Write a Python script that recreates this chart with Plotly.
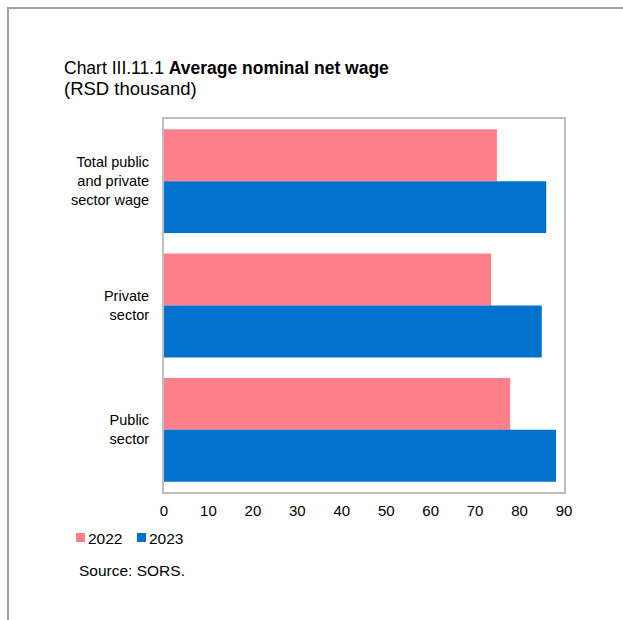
import plotly.graph_objects as go

categories = ["Total public<br>and private<br>sector wage", "Private<br>sector", "Public<br>sector"]
series_names = ["2022", "2023"]
values_2022 = [74.9, 73.6, 77.9]
values_2023 = [86.0, 85.0, 88.2]
colors = ["#FF808A", "#0072CE"]
x_ticks = [0, 10, 20, 30, 40, 50, 60, 70, 80, 90]

W, H = 623, 620
L, R, T, B = 164, 59, 119, 128
PW, PH = W - L - R, H - T - B


def px(x):
    return (x - L) / PW


def py(y):
    return 1 - (y - T) / PH


FONT = "Arial, Liberation Sans, sans-serif"

fig = go.Figure()
for name, vals, col in zip(series_names, [values_2022, values_2023], colors):
    fig.add_trace(go.Bar(
        y=categories, x=vals, name=name, orientation="h",
        marker=dict(color=col, line=dict(width=0)),
        showlegend=False,
    ))

fig.update_layout(
    width=W, height=H,
    margin=dict(l=L, r=R, t=T, b=B, pad=0),
    paper_bgcolor="white", plot_bgcolor="white",
    barmode="group", bargap=0.165, bargroupgap=0,
    font=dict(family=FONT, color="#000000", size=15),
    xaxis=dict(range=[0, 90], tickvals=x_ticks, ticktext=[str(v) for v in x_ticks],
               showgrid=False, zeroline=False, showline=True, mirror=True,
               linecolor="#BFBFBF", linewidth=2, ticks="", ticklabelstandoff=4,
               tickfont=dict(size=15, family=FONT, color="#000000"), fixedrange=True),
    yaxis=dict(autorange="reversed", showgrid=False, zeroline=False, showline=True,
               mirror=True, linecolor="#BFBFBF", linewidth=2, ticks="",
               ticklabelstandoff=10,
               tickfont=dict(size=14.5, family=FONT, color="#000000"), fixedrange=True),
)

shapes = [
    dict(type="line", xref="paper", yref="paper", x0=px(7), x1=px(W), y0=py(8), y1=py(8),
         line=dict(color="#A0A0A0", width=2)),
    dict(type="line", xref="paper", yref="paper", x0=px(8), x1=px(8), y0=py(7), y1=py(H),
         line=dict(color="#A0A0A0", width=2)),
]
# legend squares
leg_x = [76, 137]
for lx, col in zip(leg_x, colors):
    shapes.append(dict(type="rect", xref="paper", yref="paper",
                       x0=px(lx), x1=px(lx + 9), y0=py(533), y1=py(542),
                       line=dict(width=0), fillcolor=col))
fig.update_layout(shapes=shapes)

annotations = [
    dict(text="Chart III.11.1 <b>Average nominal net wage</b>", x=px(62), y=py(68),
         xref="paper", yref="paper", xanchor="left", yanchor="middle", showarrow=False,
         font=dict(size=17.5, family=FONT, color="#000000")),
    dict(text="(RSD thousand)", x=px(62), y=py(89),
         xref="paper", yref="paper", xanchor="left", yanchor="middle", showarrow=False,
         font=dict(size=18.5, family=FONT, color="#000000")),
    dict(text="Source: SORS.", x=px(77), y=py(570),
         xref="paper", yref="paper", xanchor="left", yanchor="middle", showarrow=False,
         font=dict(size=15.5, family=FONT, color="#000000")),
]
for lx, name in zip(leg_x, series_names):
    annotations.append(dict(text=name, x=px(lx + 10), y=py(538),
                            xref="paper", yref="paper", xanchor="left", yanchor="middle",
                            showarrow=False,
                            font=dict(size=15.5, family=FONT, color="#000000")))
fig.update_layout(annotations=annotations)

fig.write_html("out.html")
